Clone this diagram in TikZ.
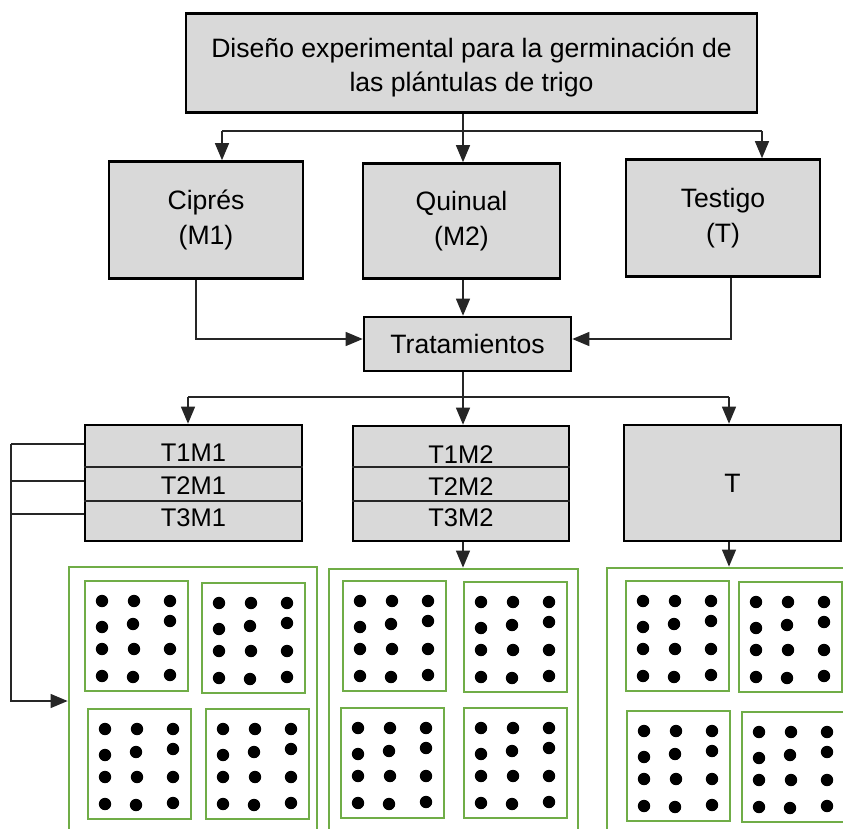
\documentclass[tikz,border=0pt]{standalone}
\usepackage{fontspec}
\setmainfont{Liberation Sans}
\usetikzlibrary{arrows.meta,calc}
\definecolor{boxgray}{HTML}{D9D9D9}
\definecolor{grn}{HTML}{70AD47}
\begin{document}
\begin{tikzpicture}[x=1pt,y=-1pt,
  box/.style={draw=black,line width=2.6pt,fill=boxgray,inner sep=0pt,align=center,
    font=\fontsize{26.6}{35}\selectfont},
  txt/.style={inner sep=0pt,align=center,font=\fontsize{26.6}{34}\selectfont},
  conn/.style={line width=1.3pt,draw=black!85},
  arr/.style={conn,-{Triangle[length=17pt,width=14pt]}},
  lbl/.style={font=\fontsize{25.5}{30}\selectfont,inner sep=0pt},
  divider/.style={line width=1.3pt,draw=black!85},
  gbig/.style={draw=grn,line width=2.8pt,inner sep=0pt},
  ginner/.style={draw=grn,line width=2.8pt}]
\useasboundingbox (0,0) rectangle (843,828);
\clip (0,0) rectangle (843,828);

% top level
\node[box,minimum width=571pt,minimum height=99pt] (top) at (471.5,63) {};
\node[txt] (toptext) at (471.5,67)
  {Diseño experimental para la germinación de\\las plántulas de trigo};

% materials
\node[box,minimum width=194pt,minimum height=117pt] (cip) at (206,220) {Ciprés\\(M1)};
\node[box,minimum width=197pt,minimum height=115pt] (quin) at (461.5,221) {Quinual\\(M2)};
\node[box,minimum width=194pt,minimum height=117pt] (tes) at (723,218) {Testigo\\(T)};

% treatments
\node[box,minimum width=207pt,minimum height=54pt] (trat) at (467.5,344) {Tratamientos};

% treatment groups
\node[box,minimum width=217pt,minimum height=116pt] (m1) at (193.5,483) {};
\node[box,minimum width=216pt,minimum height=115pt] (m2) at (461,483.5) {};
\node[box,minimum width=217pt,minimum height=116pt] (tb) at (732.5,483) {T};

\draw[divider] (m1.west |- 0,467) -- (m1.east |- 0,467);
\draw[divider] (m1.west |- 0,501) -- (m1.east |- 0,501);
\draw[divider] (m2.west |- 0,467) -- (m2.east |- 0,467);
\draw[divider] (m2.west |- 0,501) -- (m2.east |- 0,501);

\node[lbl] (r11) at (193.5,453) {T1M1};
\node[lbl] (r21) at (193.5,486) {T2M1};
\node[lbl] (r31) at (193.5,518) {T3M1};
\node[lbl] (r12) at (461,455) {T1M2};
\node[lbl] (r22) at (461,487) {T2M2};
\node[lbl] (r32) at (461,518) {T3M2};

% green trays
\node[gbig,minimum width=248pt,minimum height=340pt] (g1) at (193,737) {};
\node[gbig,minimum width=249pt,minimum height=340pt] (g2) at (453.5,739) {};
\node[gbig,minimum width=260pt,minimum height=340pt] (g3) at (737,738) {};

\foreach \bx/\by in {85/581, 202/583, 88/709, 206/709,
                     343/581, 464/582, 341/708, 464/708,
                     626/581, 739/582, 627/711, 742/712} {
  \draw[ginner] (\bx,\by) rectangle ++(103,110);
  \foreach \dx/\dy in {17/20, 49/20, 85/20,
                       17/46, 48/43, 85/40,
                       17/68, 49/68, 85/68,
                       17/95, 48/96, 85/94}
    \fill (\bx+\dx,\by+\dy) circle (6.2pt);
}

% connectors: top -> materials
\coordinate (j1L) at (222,131);
\coordinate (j1R) at (762,131);
\draw[arr] (top.south -| 463,0) -- (quin.north -| 463,0);
\draw[conn] (j1L) -- (j1R);
\draw[arr] (j1L) -- (j1L |- cip.north);
\draw[arr] (j1R) -- (j1R |- tes.north);

% materials -> treatments
\draw[arr] (cip.south -| 196,0) |- (trat.west |- 0,339);
\draw[arr] (tes.south -| 731,0) |- (trat.east |- 0,339);
\draw[arr] (quin.south -| 463,0) -- (trat.north -| 463,0);

% treatments -> groups
\coordinate (j2L) at (188,397);
\coordinate (j2M) at (463,397);
\coordinate (j2R) at (729,397);
\draw[conn] (trat.south -| j2M) -- (j2M);
\draw[conn] (j2L) -- (j2R);
\draw[arr] (j2L) -- (j2L |- m1.north);
\draw[arr] (j2M) -- (j2M |- m2.north);
\draw[arr] (j2R) -- (j2R |- tb.north);

% groups -> trays
\draw[arr] (m2.south -| 463,0) -- (g2.north -| 463,0);
\draw[arr] (tb.south -| 729,0) -- (g3.north -| 729,0);

% left bracket from T1M1..T3M1
\coordinate (lb1) at (11,444);
\coordinate (lb2) at (11,481);
\coordinate (lb3) at (11,514);
\coordinate (lb4) at (11,701);
\draw[conn] (m1.west |- lb1) -- (lb1);
\draw[conn] (m1.west |- lb2) -- (lb2);
\draw[conn] (m1.west |- lb3) -- (lb3);
\draw[arr] (lb1) -- (lb4) -- (g1.west |- lb4);
\end{tikzpicture}
\end{document}
